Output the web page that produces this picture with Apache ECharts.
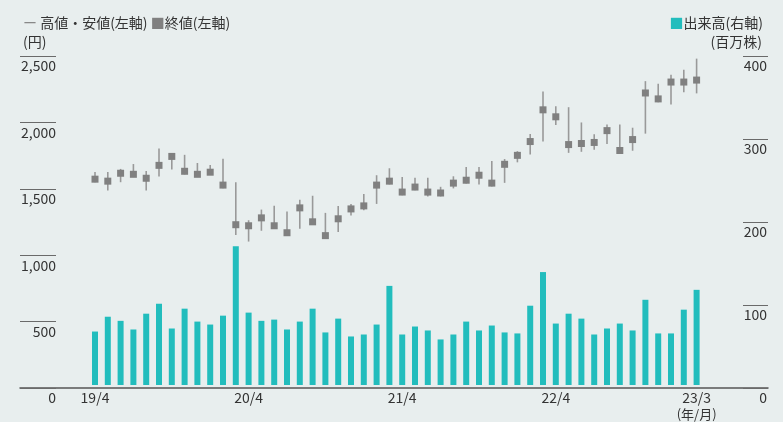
<!DOCTYPE html>
<html>
<head>
<meta charset="utf-8">
<script src="https://cdn.jsdelivr.net/npm/echarts@6/dist/echarts.min.js"></script>
<style>
html,body{margin:0;padding:0;background:#e8eeee;}
#c{width:783px;height:422px;}
</style>
</head>
<body>
<div id="c"></div>
<script>
const months = ['19/4','19/5','19/6','19/7','19/8','19/9','19/10','19/11','19/12','20/1','20/2','20/3',
  '20/4','20/5','20/6','20/7','20/8','20/9','20/10','20/11','20/12','21/1','21/2','21/3',
  '21/4','21/5','21/6','21/7','21/8','21/9','21/10','21/11','21/12','22/1','22/2','22/3',
  '22/4','22/5','22/6','22/7','22/8','22/9','22/10','22/11','22/12','23/1','23/2','23/3'];
const shownLabels = ['19/4','20/4','21/4','22/4','23/3'];
const closePrice = [1564,1549,1609,1601,1571,1669,1737,1624,1601,1617,1519,1218,
  1210,1270,1210,1157,1346,1240,1135,1263,1338,1361,1519,1549,
  1466,1504,1466,1459,1534,1556,1594,1534,1677,1745,1850,2091,
  2038,1827,1835,1843,1933,1782,1865,2219,2174,2302,2302,2317];
const highPrice = [1619,1619,1642,1679,1626,1797,1760,1749,1687,1672,1719,1541,
  1252,1333,1363,1318,1408,1438,1308,1361,1376,1451,1594,1647,
  1581,1574,1574,1506,1586,1657,1657,1702,1717,1777,1908,2231,
  2119,2111,1995,1905,1980,1980,1955,2309,2289,2357,2395,2480];
const lowPrice = [1540,1478,1541,1580,1478,1584,1637,1600,1580,1595,1495,1139,
  1090,1172,1190,1140,1187,1220,1120,1162,1288,1328,1376,1524,
  1441,1479,1433,1433,1494,1531,1524,1509,1536,1692,1752,1850,
  1975,1764,1772,1787,1832,1757,1780,1910,2149,2131,2224,2216];
const volume = [65,83,78,67.5,86.7,98.8,68.7,92.8,77.1,73.5,84.3,168.7,
  88,78,79.5,67.5,77.1,92.8,63.9,80.7,59,61.4,73.5,120.5,
  61.4,71.1,66.3,55.4,61.4,77.1,66.3,72.3,63.9,62.7,96.4,137.3,
  74.7,86.7,80.7,61.4,68.7,74.7,66.3,103.6,62.7,62.7,91.6,115.7];

const FONT = '"Noto Sans CJK JP", "Noto Sans", sans-serif';
const TEAL = '#22bdbd';
const hiLo = months.map((m, i) => [i, highPrice[i], lowPrice[i]]);

const chart = echarts.init(document.getElementById('c'), null, {renderer: 'canvas'});
chart.setOption({
  backgroundColor: '#e8eeee',
  animation: false,
  textStyle: {fontFamily: FONT},
  title: [
    {
      left: 18, top: 8,
      text: '{l|ー} 高値・安値(左軸) {s|■}終値(左軸)\n(円)',
      textStyle: {fontFamily: FONT, fontSize: 14, fontWeight: 'normal', color: '#333', lineHeight: 19,
        rich: {l: {color: '#888', fontSize: 14, fontFamily: FONT}, s: {color: '#808080', fontSize: 14, fontFamily: FONT}}}
    },
    {
      right: 15, top: 8,
      text: '{s|■}出来高(右軸)',
      textStyle: {fontFamily: FONT, fontSize: 14, fontWeight: 'normal', color: '#333', lineHeight: 19,
        rich: {s: {color: TEAL, fontSize: 14, fontFamily: FONT}}}
    },
    {
      right: 16, top: 27,
      text: '(百万株)',
      textStyle: {fontFamily: FONT, fontSize: 14, fontWeight: 'normal', color: '#333', lineHeight: 19}
    }
  ],
  grid: [
    {left: 20, right: 15, top: 56, bottom: 34},
    {left: 88.6, right: 80, top: 56, bottom: 34}
  ],
  xAxis: [
    {gridIndex: 0, type: 'value', min: 0, max: 1,
      axisLine: {show: true, onZero: false, lineStyle: {color: '#555', width: 1.5}},
      axisTick: {show: false}, axisLabel: {show: false}, splitLine: {show: false}},
    {gridIndex: 1, type: 'category', data: months, boundaryGap: true,
      axisLine: {show: false}, axisTick: {show: false}, splitLine: {show: false},
      axisLabel: {
        interval: function (idx, val) { return shownLabels.indexOf(val) >= 0; },
        margin: 5, fontSize: 14, color: '#333', fontFamily: FONT, lineHeight: 16,
        formatter: function (val, idx) { return idx === months.length - 1 ? val + '\n{u|(年/月)}' : val; },
        rich: {u: {fontSize: 13, color: '#333', fontFamily: FONT, lineHeight: 16}}
      }}
  ],
  yAxis: [
    {gridIndex: 0, type: 'value', position: 'left', min: 0, max: 2500, interval: 500,
      axisLine: {show: false},
      axisTick: {show: true, inside: true, length: 36, lineStyle: {color: '#6a6a6a', width: 1}},
      axisLabel: {inside: true, align: 'right', margin: 36, verticalAlign: 'top', padding: [3, 0, 0, 0],
        fontSize: 14, color: '#333', fontFamily: FONT,
        formatter: function (v) { return v.toLocaleString('en-US'); }},
      splitLine: {show: false}},
    {gridIndex: 0, type: 'value', position: 'right', min: 0, max: 400, interval: 100,
      axisLine: {show: false},
      axisTick: {show: true, inside: true, length: 25, lineStyle: {color: '#6a6a6a', width: 1}},
      axisLabel: {inside: true, align: 'right', margin: 1, verticalAlign: 'top', padding: [3, 0, 0, 0],
        fontSize: 14, color: '#333', fontFamily: FONT},
      splitLine: {show: false}},
    {gridIndex: 1, type: 'value', show: false, min: 0, max: 2500},
    {gridIndex: 1, type: 'value', show: false, min: 0, max: 400}
  ],
  series: [
    {type: 'bar', xAxisIndex: 1, yAxisIndex: 3, data: volume, barWidth: 6,
      itemStyle: {color: TEAL}, z: 1},
    {type: 'custom', xAxisIndex: 1, yAxisIndex: 2, data: hiLo, z: 3,
      encode: {x: 0, y: [1, 2]},
      renderItem: function (params, api) {
        const p1 = api.coord([api.value(0), api.value(1)]);
        const p2 = api.coord([api.value(0), api.value(2)]);
        return {type: 'line', shape: {x1: p1[0], y1: p1[1], x2: p2[0], y2: p2[1]},
          style: {stroke: '#999', lineWidth: 1.6}};
      }},
    {type: 'scatter', xAxisIndex: 1, yAxisIndex: 2, data: closePrice, symbol: 'rect', symbolSize: 7,
      itemStyle: {color: '#808080', opacity: 1}, z: 4}
  ]
});
</script>
</body>
</html>
